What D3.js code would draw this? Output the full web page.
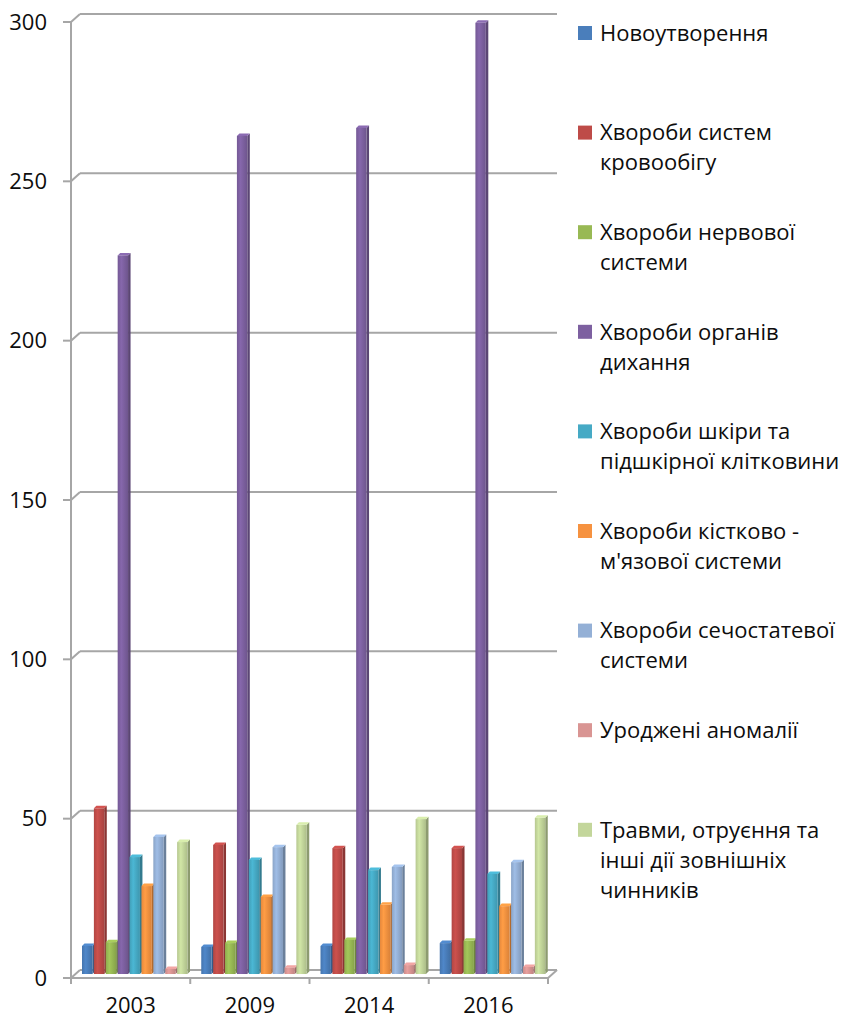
<!DOCTYPE html>
<head>
    <meta charset="utf-8">
    <script src="https://d3js.org/d3.v7.min.js"></script>
    <style>
        body { margin: 0; background: #fff; }
        text { font-family: "Open Sans", sans-serif; fill: #0d0d0d; }
        .grid line { stroke: #a6a6a6; stroke-width: 2px; }
    </style>
</head>
<body>
<div id="chart"></div>
<script>
    var years = ["2003", "2009", "2014", "2016"];
    var seriesNames = [
        ["Новоутворення"],
        ["Хвороби систем", "кровообігу"],
        ["Хвороби нервової", "системи"],
        ["Хвороби органів", "дихання"],
        ["Хвороби шкіри та", "підшкірної клітковини"],
        ["Хвороби кістково -", "м'язової системи"],
        ["Хвороби сечостатевої", "системи"],
        ["Уроджені аномалії"],
        ["Травми, отруєння та", "інші дії зовнішніх", "чинників"]
    ];
    var colors = ["#4a7ebb", "#be4b48", "#98b954", "#7d60a0", "#46aac5", "#f69240", "#94b0d6", "#d99593", "#c3d69b"];
    // values per series, in order of years
    var neoplasms   = [8.8, 8.5, 8.8, 9.7];
    var circulatory = [52, 40.5, 39.5, 39.5];
    var nervous     = [10, 9.7, 10.7, 10.4];
    var respiratory = [225.5, 263, 265.5, 298.5];
    var skin        = [36.7, 35.8, 32.6, 31.4];
    var bones       = [27.6, 24.2, 21.7, 21.3];
    var urogenital  = [43, 39.8, 33.6, 35.1];
    var congenital  = [1.6, 2, 2.8, 2.2];
    var injuries    = [41.4, 46.8, 48.6, 49];
    var values = [neoplasms, circulatory, nervous, respiratory, skin, bones, urogenital, congenital, injuries];
    var yTicks = [0, 50, 100, 150, 200, 250, 300];

    var width = 845, height = 1020;
    var svg = d3.select("#chart").append("svg")
        .attr("width", width).attr("height", height);

    // 3d offsets: back wall and bar plane
    var back = {dx: 9, dy: -8};
    var mid = {dx: 4, dy: -4};
    var depth = 2.5;

    var y = d3.scaleLinear().domain([0, 300]).range([978, 22]);
    var x0 = d3.scaleBand().domain(years).range([71, 548]);
    var x1 = d3.scaleBand().domain(d3.range(values.length)).range([7, 114]);
    var faceW = x1.bandwidth() - 1.5;

    // gradients for bar fronts
    var defs = svg.append("defs");
    colors.forEach(function (c, i) {
        var g = defs.append("linearGradient").attr("id", "g" + i)
            .attr("x1", 0).attr("x2", 1).attr("y1", 0).attr("y2", 0);
        g.append("stop").attr("offset", "0%").attr("stop-color", d3.color(c).darker(0.2));
        g.append("stop").attr("offset", "35%").attr("stop-color", d3.color(c).brighter(0.2));
        g.append("stop").attr("offset", "100%").attr("stop-color", d3.color(c).darker(0.35));
    });

    // gridlines on back wall with diagonal to front axis
    var grid = svg.append("g").attr("class", "grid");
    yTicks.forEach(function (t) {
        grid.append("line")
            .attr("x1", 63).attr("x2", 71).attr("y1", y(t)).attr("y2", y(t));
        grid.append("line")
            .attr("x1", 71).attr("x2", 71 + back.dx).attr("y1", y(t)).attr("y2", y(t) + back.dy);
        if (t > 0) {
            grid.append("line")
                .attr("x1", 71 + back.dx).attr("x2", 557).attr("y1", y(t) + back.dy).attr("y2", y(t) + back.dy);
        }
    });
    // floor
    grid.append("line").attr("x1", 71 + back.dx).attr("x2", 557)
        .attr("y1", y(0) + back.dy).attr("y2", y(0) + back.dy);
    grid.append("line").attr("x1", 71).attr("x2", 548).attr("y1", y(0)).attr("y2", y(0));
    grid.append("line").attr("x1", 548).attr("x2", 548 + back.dx)
        .attr("y1", y(0)).attr("y2", y(0) + back.dy);
    // front vertical axis
    grid.append("line").attr("x1", 71).attr("x2", 71).attr("y1", y(300)).attr("y2", y(0));
    // x ticks
    years.concat(["end"]).forEach(function (yr, i) {
        var xx = i < years.length ? x0(yr) : x0.range()[1];
        grid.append("line").attr("x1", xx).attr("x2", xx).attr("y1", y(0)).attr("y2", y(0) + 6);
    });

    // bars
    var bars = svg.append("g");
    values.forEach(function (series, s) {
        series.forEach(function (v, i) {
            var xl = x0(years[i]) + x1(s) + mid.dx;
            var xr = xl + faceW;
            var yb = y(0) + mid.dy;
            var yt = y(v) + mid.dy;
            var c = d3.color(colors[s]);
            bars.append("polygon")
                .attr("points", [[xr, yt], [xr + depth, yt - depth], [xr + depth, yb - depth], [xr, yb]].join(" "))
                .attr("fill", c.darker(0.9));
            bars.append("polygon")
                .attr("points", [[xl, yt], [xl + depth, yt - depth], [xr + depth, yt - depth], [xr, yt]].join(" "))
                .attr("fill", c.brighter(0.3));
            bars.append("rect")
                .attr("x", xl).attr("y", yt).attr("width", faceW).attr("height", yb - yt)
                .attr("fill", "url(#g" + s + ")");
        });
    });

    // y labels
    svg.append("g").selectAll("text").data(yTicks).enter().append("text")
        .attr("x", 47).attr("y", function (d) { return y(d); })
        .attr("dy", "0.35em").attr("text-anchor", "end")
        .style("font-size", "22px")
        .text(function (d) { return d; });

    // x labels
    svg.append("g").selectAll("text").data(years).enter().append("text")
        .attr("x", function (d) { return x0(d) + x0.bandwidth() / 2; })
        .attr("y", 1005).attr("dy", "0.35em").attr("text-anchor", "middle")
        .style("font-size", "22px")
        .text(function (d) { return d; });

    // legend
    var legend = svg.append("g");
    seriesNames.forEach(function (lines, i) {
        var cy = 33 + i * 99.6;
        legend.append("rect").attr("x", 578).attr("y", cy - 7).attr("width", 14).attr("height", 14)
            .attr("fill", colors[i]);
        var t = legend.append("text").attr("x", 600).attr("y", cy).attr("dy", "0.35em")
            .style("font-size", "22px");
        lines.forEach(function (ln, k) {
            t.append("tspan").attr("x", 600).attr("dy", k === 0 ? "0.35em" : "30px").text(ln);
        });
    });
</script>
</body>
